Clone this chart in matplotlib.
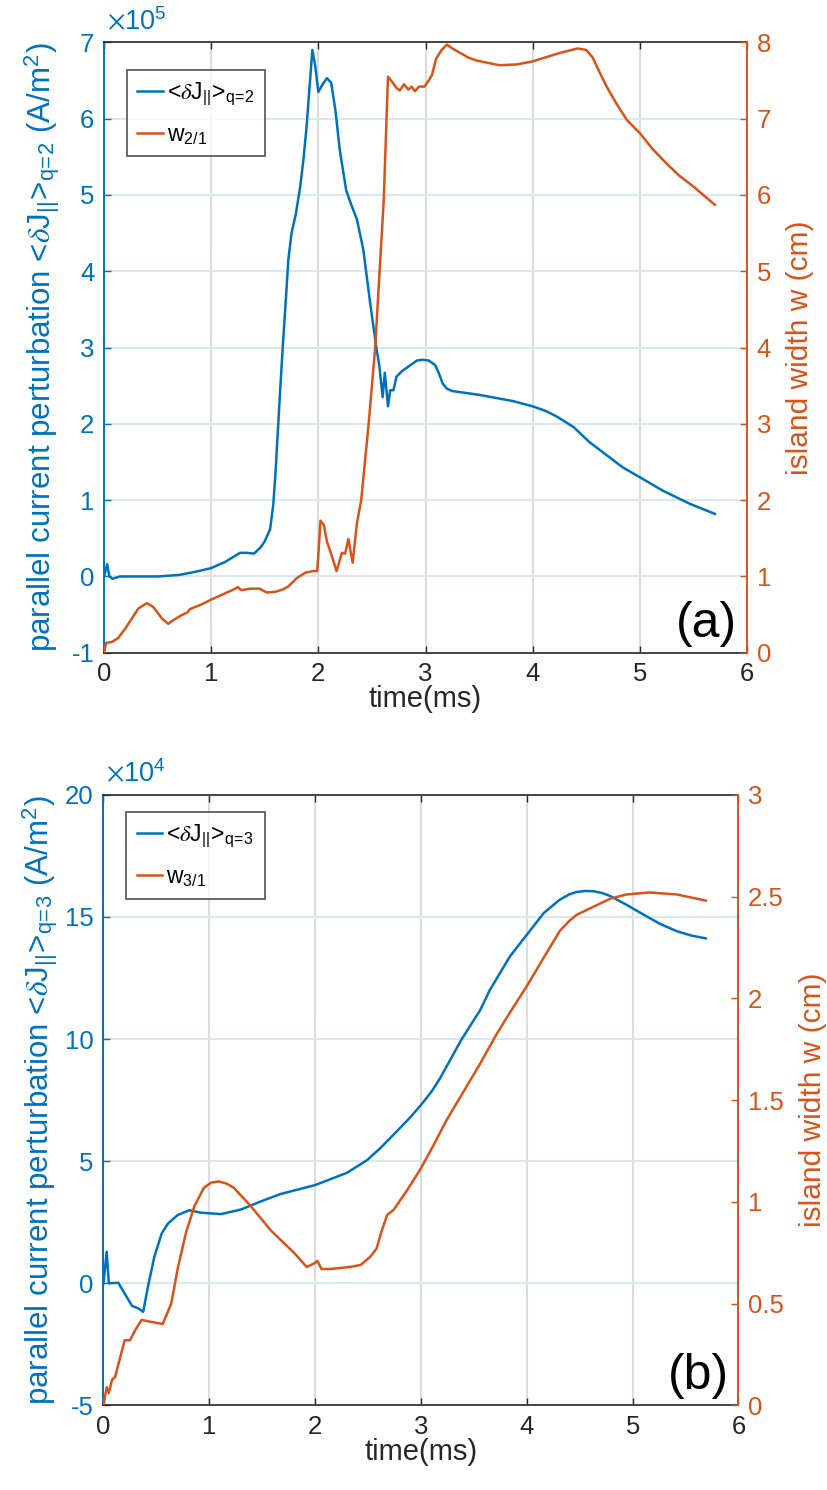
import matplotlib
matplotlib.use('Agg')
import matplotlib.pyplot as plt

plt.rcParams['font.family'] = ['Liberation Sans', 'DejaVu Sans']
plt.rcParams['mathtext.fontset'] = 'stix'
plt.rcParams['axes.unicode_minus'] = False

BLUE = '#0072BD'
ORANGE = '#D95319'
DARK = '#262626'

# panel (a): <dJ||> at q=2 (x1e5 A/m^2) and w_2/1 (cm)
t_a_j = [0.0, 0.03, 0.05, 0.08, 0.15, 0.3, 0.5, 0.7, 0.85, 1.0, 1.13, 1.27, 1.33,
         1.4, 1.46, 1.5, 1.55, 1.58, 1.6, 1.62, 1.64, 1.668, 1.7, 1.72, 1.75,
         1.79, 1.83, 1.86, 1.89, 1.92, 1.944, 1.97, 2.0, 2.04, 2.08, 2.12, 2.16,
         2.2, 2.26, 2.31, 2.36, 2.42, 2.48, 2.54, 2.57, 2.6, 2.62, 2.65, 2.67,
         2.7, 2.73, 2.78, 2.83, 2.92, 2.97, 3.03, 3.09, 3.12, 3.16, 3.2, 3.25,
         3.5, 3.81, 4.0, 4.12, 4.22, 4.38, 4.53, 4.69, 4.84, 5.0, 5.22, 5.47, 5.7]
j_a = [0.0, 0.16, 0.0, -0.03, 0.0, 0.0, 0.0, 0.02, 0.06, 0.11, 0.19, 0.31, 0.31,
       0.30, 0.38, 0.46, 0.62, 0.95, 1.35, 1.85, 2.35, 3.01, 3.7, 4.15, 4.5,
       4.75, 5.1, 5.45, 5.89, 6.45, 6.9, 6.7, 6.35, 6.45, 6.53, 6.47, 6.1,
       5.59, 5.06, 4.86, 4.68, 4.28, 3.62, 3.01, 2.75, 2.35, 2.67, 2.23, 2.44,
       2.44, 2.62, 2.69, 2.74, 2.83, 2.84, 2.83, 2.77, 2.68, 2.53, 2.46, 2.43,
       2.38, 2.30, 2.23, 2.17, 2.10, 1.96, 1.76, 1.59, 1.43, 1.30, 1.12, 0.95, 0.82]
t_a_w = [0.0, 0.02, 0.07, 0.13, 0.2, 0.26, 0.32, 0.4, 0.46, 0.54, 0.6, 0.65, 0.72,
         0.78, 0.8, 0.85, 0.92, 0.99, 1.1, 1.21, 1.25, 1.28, 1.36, 1.45, 1.52,
         1.6, 1.67, 1.72, 1.8, 1.88, 1.95, 1.99, 2.02, 2.05, 2.08, 2.13, 2.17,
         2.22, 2.25, 2.28, 2.32, 2.36, 2.4, 2.47, 2.53, 2.61, 2.65, 2.7, 2.73,
         2.76, 2.8, 2.84, 2.87, 2.9, 2.94, 2.99, 3.03, 3.06, 3.1, 3.15, 3.2,
         3.25, 3.3, 3.4, 3.48, 3.69, 3.85, 4.0, 4.25, 4.42, 4.5, 4.56, 4.62,
         4.69, 4.78, 4.88, 5.0, 5.12, 5.25, 5.37, 5.5, 5.7]
w_a = [0.0, 0.13, 0.14, 0.19, 0.32, 0.45, 0.58, 0.65, 0.6, 0.45, 0.38, 0.43, 0.49,
       0.53, 0.57, 0.6, 0.64, 0.69, 0.76, 0.83, 0.86, 0.82, 0.84, 0.84, 0.79,
       0.8, 0.83, 0.87, 0.98, 1.05, 1.07, 1.07, 1.73, 1.68, 1.46, 1.25, 1.07,
       1.31, 1.3, 1.49, 1.18, 1.7, 2.0, 3.01, 3.99, 5.93, 7.55, 7.46, 7.4,
       7.37, 7.45, 7.38, 7.42, 7.36, 7.42, 7.42, 7.5, 7.57, 7.79, 7.9, 7.97,
       7.92, 7.88, 7.8, 7.76, 7.7, 7.71, 7.75, 7.86, 7.92, 7.9, 7.8, 7.62,
       7.42, 7.2, 6.98, 6.81, 6.6, 6.41, 6.25, 6.11, 5.87]

# panel (b): <dJ||> at q=3 (x1e4 A/m^2) and w_3/1 (cm)
t_b_j = [0.0, 0.03, 0.05, 0.14, 0.2, 0.27, 0.33, 0.375, 0.42, 0.48, 0.55, 0.61,
         0.7, 0.81, 0.92, 1.11, 1.3, 1.48, 1.67, 2.0, 2.3, 2.49, 2.62, 2.71, 2.8,
         2.9, 3.0, 3.1, 3.18, 3.38, 3.56, 3.65, 3.84, 4.0, 4.16, 4.31, 4.4, 4.47,
         4.55, 4.63, 4.71, 4.79, 4.94, 5.1, 5.26, 5.42, 5.55, 5.69]
j_b = [0.0, 1.29, 0.0, 0.02, -0.42, -0.93, -1.03, -1.17, -0.14, 1.08, 2.04, 2.45,
       2.79, 2.99, 2.89, 2.83, 3.02, 3.34, 3.65, 4.02, 4.52, 5.04, 5.55, 5.95,
       6.35, 6.8, 7.3, 7.85, 8.39, 9.96, 11.19, 12.0, 13.38, 14.27, 15.16, 15.7,
       15.92, 16.02, 16.06, 16.05, 15.98, 15.85, 15.5, 15.1, 14.71, 14.41,
       14.24, 14.12]
t_b_w = [0.0, 0.03, 0.05, 0.08, 0.11, 0.16, 0.2, 0.25, 0.3, 0.36, 0.45, 0.56, 0.64,
         0.7, 0.78, 0.86, 0.95, 1.02, 1.09, 1.16, 1.23, 1.39, 1.58, 1.8, 1.92,
         2.0, 2.02, 2.06, 2.14, 2.33, 2.43, 2.52, 2.58, 2.63, 2.68, 2.74, 2.86,
         3.0, 3.12, 3.24, 3.4, 3.56, 3.71, 3.84, 4.0, 4.16, 4.31, 4.4, 4.47,
         4.63, 4.79, 4.94, 5.16, 5.42, 5.69]
w_b = [0.0, 0.09, 0.06, 0.125, 0.14, 0.24, 0.32, 0.32, 0.37, 0.42, 0.41, 0.4, 0.5,
       0.67, 0.85, 0.98, 1.07, 1.095, 1.1, 1.09, 1.07, 0.98, 0.86, 0.75, 0.68,
       0.7, 0.71, 0.67, 0.67, 0.68, 0.69, 0.73, 0.77, 0.86, 0.935, 0.96, 1.05,
       1.165, 1.28, 1.4, 1.54, 1.68, 1.82, 1.93, 2.06, 2.2, 2.33, 2.38, 2.41,
       2.45, 2.49, 2.51, 2.52, 2.51, 2.48]


def panel(fig, rect, t_j, j, t_w, w, jticks, wticks, expo, q, mode, tag,
          ylab_x, ylab2_x, leg_top):
    ax = fig.add_axes(rect)
    ax2 = ax.twinx()

    l1, = ax.plot(t_j, j, color=BLUE, lw=1.8)
    l2, = ax2.plot(t_w, w, color=ORANGE, lw=1.8)

    ax.set_xlim(0, 6)
    ax.set_xticks(range(7))
    ax.set_ylim(jticks[0], jticks[-1])
    ax.set_yticks(jticks)
    ax2.set_ylim(wticks[0], wticks[-1])
    ax2.set_yticks(wticks)
    ax2.set_yticklabels(['{:g}'.format(v) for v in wticks])

    ax.grid(axis='x', color='#dcdcdc', lw=1.5)
    ax.grid(axis='y', color='#dae8f4', lw=1.5)
    ax.set_axisbelow(True)

    ax.tick_params(direction='in', length=5, width=1.0, labelsize=18.5, pad=7,
                   top=True)
    ax.tick_params(axis='x', colors=DARK)
    ax.tick_params(axis='y', colors=BLUE)
    ax2.tick_params(direction='in', length=5, width=1.0, labelsize=18.5, pad=7,
                    colors=ORANGE)

    for s in ['top', 'bottom']:
        ax.spines[s].set_color(DARK)
        ax.spines[s].set_linewidth(1.2)
    ax.spines['left'].set_color(BLUE)
    ax.spines['left'].set_linewidth(1.4)
    ax.spines['right'].set_visible(False)
    for s in ['left', 'top', 'bottom']:
        ax2.spines[s].set_visible(False)
    ax2.spines['right'].set_color(ORANGE)
    ax2.spines['right'].set_linewidth(1.4)

    ax.set_xlabel('time(ms)', fontsize=21, color=DARK)
    ax.xaxis.set_label_coords(0.5, -0.053)
    ax.set_ylabel(r'parallel current perturbation <$\delta$J$_{\mathregular{||}}$>'
                  r'$_{\mathregular{q\!=\!%d}}$ (A/m$^{\mathregular{2}}$)' % q,
                  fontsize=22.5, color=BLUE)
    ax.yaxis.set_label_coords(ylab_x, 0.5)
    ax2.set_ylabel('island width w (cm)', fontsize=21.5, color=ORANGE)
    ax2.yaxis.set_label_coords(ylab2_x, 0.5)

    ax.text(0.004, 1.01, r'$\times\mathregular{10^{%d}}$' % expo,
            transform=ax.transAxes, ha='left', va='bottom', color=BLUE,
            fontsize=19.5)
    ax2.text(0.985, 0.01, tag, transform=ax.transAxes, ha='right',
             va='bottom', fontsize=36, color='k')

    leg = ax2.legend([l1, l2],
                     [r'<$\delta$J$_{\mathregular{||}}$>$_{\mathregular{q\!=\!%d}}$' % q,
                      r'w$_{\mathregular{%s}}$' % mode],
                     loc='upper left', bbox_to_anchor=(0.036, leg_top),
                     fontsize=16.5, frameon=True, fancybox=False,
                     handlelength=1.1, handletextpad=0.2, borderpad=0.45,
                     labelspacing=0.7, borderaxespad=0.0)
    leg.get_frame().set_edgecolor(DARK)
    leg.get_frame().set_linewidth(1.2)
    return ax, ax2


def main():
    fig = plt.figure(figsize=(8.28, 14.9), dpi=100)
    panel(fig, [0.1256, 0.5619, 0.7766, 0.4097], t_a_j, j_a, t_a_w, w_a,
          list(range(-1, 8)), list(range(0, 9)), 5, 2, '2/1', '(a)',
          -0.0653, 1.0607, 0.955)
    panel(fig, [0.1250, 0.0568, 0.7669, 0.4098], t_b_j, j_b, t_b_w, w_b,
          list(range(-5, 21, 5)), [0, 0.5, 1, 1.5, 2, 2.5, 3], 4, 3, '3/1',
          '(b)', -0.0685, 1.0953, 0.971)
    fig.savefig('out.png', dpi=100)


if __name__ == '__main__':
    main()
